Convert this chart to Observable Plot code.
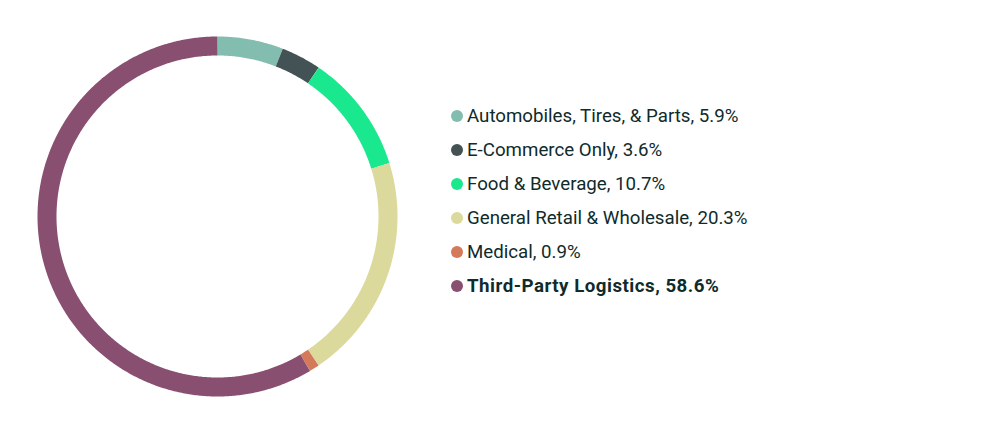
<!DOCTYPE html>
<html><head><meta charset="utf-8">
<script src="https://cdn.jsdelivr.net/npm/d3@7"></script>
<script src="https://cdn.jsdelivr.net/npm/@observablehq/plot@0.6"></script>
<style>
html,body{margin:0;padding:0;background:#fff;}
#wrap{position:relative;width:1000px;height:435px;}
#chart{position:absolute;left:0;top:0;}
#legend{position:absolute;left:451px;top:99px;font-family:Roboto,sans-serif;font-size:18.7px;color:#0f2b2b;}
.row{display:flex;align-items:center;height:34px;white-space:nowrap;}
.sw{width:12px;height:12px;border-radius:50%;margin-right:4px;flex:none;}
</style></head><body>
<div id="wrap"><div id="chart"></div><div id="legend"></div></div>
<script>
const categories = ["Automobiles, Tires, & Parts","E-Commerce Only","Food & Beverage","General Retail & Wholesale","Medical","Third-Party Logistics"];
const values = [5.9, 3.6, 10.7, 20.3, 0.9, 58.6];
const colors = ["#83bdaf","#435254","#1ae88f","#dcd99c","#d4795a","#894f70"];
const highlight = "Third-Party Logistics";

const total = d3.sum(values);
const rMid = (180 + 161) / 2 / 180;
const pts = [];
let cum = 0;
categories.forEach((c, i) => {
  const a0 = cum / total * 2 * Math.PI;
  cum += values[i];
  const a1 = cum / total * 2 * Math.PI;
  const n = Math.max(2, Math.ceil((a1 - a0) / (Math.PI / 360)));
  for (let k = 0; k <= n; k++) {
    const a = a0 + (a1 - a0) * k / n;
    pts.push({cat: c, x: rMid * Math.sin(a), y: rMid * Math.cos(a)});
  }
});

const plot = Plot.plot({
  width: 435, height: 435,
  margin: 0,
  x: {domain: [-1, 1], range: [37, 397], axis: null},
  y: {domain: [-1, 1], range: [396, 36], axis: null},
  color: {domain: categories, range: colors},
  marks: [
    Plot.line(pts, {x: "x", y: "y", z: "cat", stroke: "cat", strokeWidth: 19, strokeLinecap: "butt", strokeLinejoin: "round", curve: "linear"})
  ]
});
document.getElementById("chart").appendChild(plot);

const legend = document.getElementById("legend");
categories.forEach((c, i) => {
  const row = document.createElement("div");
  row.className = "row";
  const sw = document.createElement("span");
  sw.className = "sw"; sw.style.background = colors[i];
  const t = document.createElement("span");
  t.textContent = `${c}, ${values[i].toFixed(1)}%`;
  if (c === highlight) { t.style.fontWeight = "bold"; t.style.letterSpacing = "0.5px"; }
  row.appendChild(sw); row.appendChild(t);
  legend.appendChild(row);
});
</script>
</body></html>
